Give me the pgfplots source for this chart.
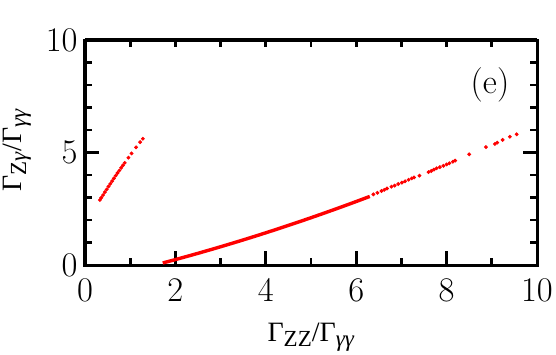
\documentclass[border=0pt]{standalone}
\usepackage[no-math]{fontspec}
\setmainfont{Liberation Serif}
\usepackage{pgfplots}
\pgfplotsset{compat=1.18}
\newcommand\sub[1]{\raisebox{-0.35ex}{\fontsize{11.5}{12}\selectfont #1}}
\begin{document}
\fontsize{17}{19}\selectfont
\begin{tikzpicture}
  % fixed canvas: 1 px of the reference = 0.5pt
  \path[use as bounding box] (-42.5pt,-44.5pt) rectangle (235.5pt,132.5pt);
  \begin{axis}[
      at={(0pt,0pt)}, anchor=south west,
      scale only axis, width=226pt, height=112.5pt,
      xmin=0, xmax=10, ymin=0, ymax=10,
      xtick={0,2,...,10}, minor xtick={1,3,...,9},
      ytick={0,5,10}, minor ytick={1,2,3,4,6,7,8,9},
      xtick pos=bottom, ytick pos=both,
      tick align=inside,
      major tick length=7pt, minor tick length=3.4pt,
      every tick/.style={black, line width=1.4pt},
      axis line style={line width=1.5pt},
      tick label style={font=\fontsize{18}{20}\selectfont},
      xticklabel style={anchor=base, yshift=-18pt},
      yticklabel style={inner xsep=0pt, xshift=-3.5pt},
      xlabel={Γ\sub{ZZ}/Γ\sub{\textit{γγ}}},
      ylabel={Γ\sub{Z\textit{γ}}/Γ\sub{\textit{γγ}}},
      every axis x label/.style={at={(axis description cs:0.5,-0.34)}, anchor=base,
        font=\fontsize{14}{16}\selectfont},
      every axis y label/.style={at={(axis description cs:-0.15,0.51)}, anchor=center,
        rotate=90, font=\fontsize{14}{16}\selectfont},
      clip=false,
    ]
    % small branch
    \addplot[only marks, mark=*, mark size=0.75pt, color=red] coordinates {
      (0.33,2.89) (0.36,2.99) (0.40,3.11) (0.44,3.24) (0.48,3.36) (0.52,3.49)
      (0.56,3.61) (0.60,3.73) (0.64,3.85) (0.68,3.97) (0.72,4.09) (0.76,4.20)
      (0.80,4.32) (0.84,4.43) (0.88,4.54) (0.96,4.77) (1.03,4.96) (1.13,5.23)
      (1.22,5.46) (1.28,5.61)
    };
    % main branch, dense part
    \addplot[red, line width=1.7pt] coordinates {
      (1.72,0.09) (1.9,0.187) (2.1,0.296) (2.3,0.407) (2.5,0.520) (2.7,0.635)
      (2.9,0.752) (3.1,0.871) (3.3,0.992) (3.5,1.115) (3.7,1.240) (3.9,1.367)
      (4.1,1.496) (4.3,1.627) (4.5,1.760) (4.7,1.895) (4.9,2.032) (5.1,2.171)
      (5.3,2.312) (5.5,2.455) (5.7,2.600) (5.9,2.747) (6.1,2.896) (6.3,3.047)
    };
    % main branch, sparse tail
    \addplot[only marks, mark=*, mark size=0.75pt, color=red] coordinates {
      (6.38,3.14) (6.47,3.21) (6.56,3.29) (6.62,3.34) (6.68,3.40) (6.78,3.48)
      (6.85,3.53) (6.93,3.60) (7.01,3.66) (7.08,3.72) (7.16,3.79) (7.23,3.85)
      (7.28,3.89) (7.40,3.97) (7.60,4.13) (7.66,4.18) (7.72,4.24) (7.78,4.30)
      (7.85,4.35) (7.93,4.41) (8.00,4.47) (8.06,4.52) (8.14,4.59) (8.19,4.64)
      (8.50,4.92) (8.87,5.24) (9.07,5.38) (9.12,5.44) (9.24,5.56) (9.40,5.70)
      (9.55,5.81)
    };
  \end{axis}
  % top axis: short ticks only
  \begin{axis}[
      at={(0pt,0pt)}, anchor=south west,
      scale only axis, width=226pt, height=112.5pt,
      xmin=0, xmax=10, ymin=0, ymax=10,
      axis x line*=top, axis y line=none,
      xtick={1,2,...,9}, xticklabels={},
      tick align=inside, major tick length=3.4pt,
      every tick/.style={black, line width=1.4pt},
      axis line style={line width=1.5pt},
    ]
  \end{axis}
  \node[font=\fontsize{18}{20}\selectfont] at (202.5pt,90pt) {$(\mathrm{e})$};
\end{tikzpicture}
\end{document}
